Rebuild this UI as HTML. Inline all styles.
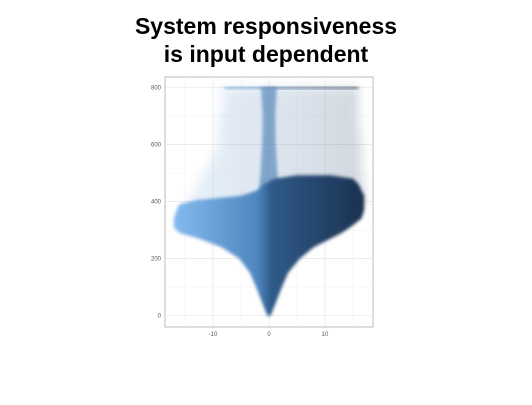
<!DOCTYPE html>
<html><head><meta charset="utf-8"><style>
body{margin:0;background:#fff;width:532px;height:400px;overflow:hidden;font-family:"Liberation Sans",sans-serif}
</style></head><body>
<svg width="532" height="400">
<defs>
<linearGradient id="g" gradientUnits="userSpaceOnUse" x1="170" y1="0" x2="365" y2="0">
<stop offset="0" stop-color="#86bdf0"/><stop offset="0.45" stop-color="#4f86bf"/><stop offset="0.52" stop-color="#2f5a88"/><stop offset="1" stop-color="#1b3150"/>
</linearGradient>
<linearGradient id="g2" gradientUnits="userSpaceOnUse" x1="170" y1="0" x2="365" y2="0">
<stop offset="0" stop-color="#9cc8f0"/><stop offset="0.5" stop-color="#6a93c0"/><stop offset="1" stop-color="#3a5270"/>
</linearGradient>
<filter id="soft" x="-10%" y="-10%" width="120%" height="120%"><feGaussianBlur stdDeviation="1.6"/></filter>
<filter id="soft2" x="-10%" y="-10%" width="120%" height="120%"><feGaussianBlur stdDeviation="5"/></filter>
</defs>
<text x="266" y="34" text-anchor="middle" font-size="23" font-weight="bold" fill="#000">System responsiveness</text>
<text x="266" y="62" text-anchor="middle" font-size="23" font-weight="bold" fill="#000">is input dependent</text>
<rect x="165" y="77" width="208" height="250" fill="#fff" stroke="#aaa" stroke-width="0.8"/>
<g id="grid"></g>
<g id="marks"></g>
<g id="axes"></g>
</svg>
<script>
const xTicks=[-10,0,10];
const yTicks=[0,200,400,600,800];
const xMinor=[-15,-5,5,15];
const yMinor=[100,300,500,700];
// density envelope of dense body: [y, left x, right x]
const bodyY=[0,30,60,100,150,200,240,270,290,310,340,370,390,405,420,440,460,480,492];
const bodyL=[-0.3,-0.9,-1.5,-2.3,-3.4,-5.3,-8.5,-12.5,-16,-17,-17,-16.5,-16,-13,-5,-2,-1,1,5];
const bodyR=[0.3,0.9,1.5,2.3,3.4,5.5,8,11,13,14.5,16.5,17,17,17,17,16.5,16,15,11];
// sparse cloud envelope
const cloudY=[380,450,520,600,680,760,800];
const cloudL=[-15,-13,-11,-9,-9,-8,-9];
const cloudR=[17,17,16.5,16.5,16,16,16];
// central vertical stripe half-width
const stripeY=[400,500,600,700,800];
const stripeW=[2,1.5,1.2,1.1,1.4];
const sx=v=>269+v*5.6, sy=v=>315.7-v*0.2855;
const NS="http://www.w3.org/2000/svg";
function mk(t,a,p){const e=document.createElementNS(NS,t);for(const k in a)e.setAttribute(k,a[k]);p.appendChild(e);return e;}
const grid=document.getElementById('grid'),marks=document.getElementById('marks'),axes=document.getElementById('axes');
xMinor.forEach(v=>{const l=mk('line',{x1:sx(v),x2:sx(v),y1:77,y2:327,stroke:'#f2f2f2','stroke-width':0.5},grid);});
yMinor.forEach(v=>{const l=mk('line',{x1:165,x2:373,y1:sy(v),y2:sy(v),stroke:'#f2f2f2','stroke-width':0.5},grid);});
xTicks.forEach(v=>{const l=mk('line',{x1:sx(v),x2:sx(v),y1:77,y2:327,stroke:'#e6e6e6','stroke-width':0.7},grid);
const t=mk('text',{x:sx(v),y:336,'text-anchor':'middle','font-size':6,fill:'#555'},axes);t.textContent=v;});
yTicks.forEach(v=>{const l=mk('line',{x1:165,x2:373,y1:sy(v),y2:sy(v),stroke:'#e6e6e6','stroke-width':0.7},grid);
const t=mk('text',{x:161,y:sy(v)+2,'text-anchor':'end','font-size':6,fill:'#555'},axes);t.textContent=v;});
function poly(Y,L,R){const pts=[];Y.forEach((y,i)=>pts.push(sx(L[i])+','+sy(y)));for(let i=Y.length-1;i>=0;i--)pts.push(sx(R[i])+','+sy(Y[i]));return pts.join(' ');}
const cloud=mk('polygon',{points:poly(cloudY,cloudL,cloudR),fill:'url(#g2)',opacity:0.22,filter:'url(#soft2)'},marks);

const band=mk('rect',{x:sx(-8),y:sy(803),width:sx(16)-sx(-8),height:3,fill:'url(#g)',opacity:0.55,filter:'url(#soft)'},marks);

const stripe=mk('polygon',{points:poly(stripeY,stripeW.map(w=>-w),stripeW),fill:'#4f82b8',opacity:0.65,filter:'url(#soft)'},marks);

const body=mk('polygon',{points:poly(bodyY,bodyL,bodyR),fill:'url(#g)',filter:'url(#soft)'},marks);

</script>
</body></html>
